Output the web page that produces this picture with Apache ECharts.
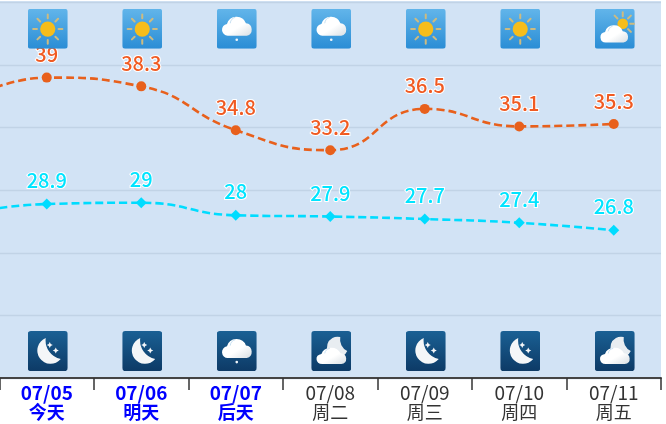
<!DOCTYPE html>
<html><head><meta charset="utf-8">
<style>html,body{margin:0;padding:0;background:#fff}#c{width:666px;height:424px}</style>
<script src="https://cdn.jsdelivr.net/npm/echarts@6/dist/echarts.min.js"></script>
</head><body><div id="c"></div>
<script>
const dates = ['', '07/05', '07/06', '07/07', '07/08', '07/09', '07/10', '07/11'];
const weekdays = ['', '今天', '明天', '后天', '周二', '周三', '周四', '周五'];
const highs = [36.5, 39, 38.3, 34.8, 33.2, 36.5, 35.1, 35.3];
const lows = [27.9, 28.9, 29, 28, 27.9, 27.7, 27.4, 26.8];
const dayIcons = [null, 'sun', 'sun', 'rain', 'rain', 'sun', 'sun', 'partly'];
const nightIcons = [null, 'moon', 'moon', 'rain', 'cloudNight', 'moon', 'moon', 'cloudNight'];
const dayIconLevel = 42.9, nightIconLevel = 17.15;

function cloud(tf) {
  return `<g transform="${tf}"><path d="M11 27a6 6 0 0 1-.8-11.9A10 10 0 0 1 29.2 14.4 6.4 6.4 0 0 1 30 27z" fill="url(#w)"/>` +
    `<path d="M13.5 14.5a7 7 0 0 1 5-6" fill="none" stroke="#b9d8ee" stroke-width=".8"/></g>`;
}
function rays(cx, cy, r0, r1, only) {
  let s = '';
  for (let i = 0; i < 8; i++) {
    if (only && !only.includes(i)) continue;
    const a = i * Math.PI / 4;
    s += `M${cx + r0 * Math.cos(a)} ${cy + r0 * Math.sin(a)}L${cx + r1 * Math.cos(a)} ${cy + r1 * Math.sin(a)}`;
  }
  return `<path d="${s}" stroke="#cdbb80" stroke-width="2" stroke-linecap="round"/>`;
}
const moonPath = 'M18 7A13.3 13.3 0 1 0 33 28A19 19 0 0 1 18 7z';
const art = {
  sun: rays(20, 20.3, 10.8, 14.6) + '<circle cx="20" cy="20.3" r="7.6" fill="#f6bd1b"/>',
  rain: cloud('') + '<circle cx="20" cy="31" r="1.3" fill="#f2f7fb"/>',
  partly: rays(28, 15, 7.5, 11.5, [0, 1, 5, 6, 7]) + '<circle cx="28" cy="15" r="5.3" fill="#f6bd1b"/>' + cloud('translate(.8,9.5) scale(.93,.9)'),
  moon: `<path d="${moonPath}" fill="#f4f6f8"/>` +
    '<path d="M22 11l1 2 2 1-2 1-1 2-1-2-2-1 2-1zM28 16.5l1 2 2 1-2 1-1 2-1-2-2-1 2-1z" fill="#f4f6f8"/>',
  cloudNight: '<path d="M29 6A10.5 10.5 0 1 0 36 20A13 13 0 0 1 29 6z" fill="#e8edf1"/>' + cloud('translate(0,10) scale(1,.85)')
};
function iconUri(name, night) {
  const stops = night ? ['#1a6094', '#0d3a66'] : ['#62b5ea', '#2a8dd5'];
  const svg = `<svg xmlns="http://www.w3.org/2000/svg" width="40" height="40" viewBox="0 0 40 40"><defs>` +
    `<linearGradient id="b" x1="0" y1="0" x2="0" y2="1"><stop offset="0" stop-color="${stops[0]}"/><stop offset="1" stop-color="${stops[1]}"/></linearGradient>` +
    `<linearGradient id="w" x1="0" y1="0" x2="1" y2="1"><stop offset=".55" stop-color="#fff"/><stop offset="1" stop-color="#d9dfe4"/></linearGradient></defs>` +
    `<rect width="40" height="40" rx="3" fill="url(#b)"/>${art[name]}</svg>`;
  return 'image://data:image/svg+xml;charset=utf-8,' + encodeURIComponent(svg);
}
function iconSeries(list, level, night) {
  return {
    type: 'scatter', z: 10, silent: true, symbolSize: 40, symbolOffset: [1, 0], clip: false,
    itemStyle: { opacity: 1 },
    data: list.map((n, i) => n ? { value: [i, level], symbol: iconUri(n, night) } : null).filter(Boolean)
  };
}
function lineSeries(values, color, labelColor, symbol, size) {
  return {
    type: 'line', smooth: true, symbol, symbolSize: size, z: 5, clip: true,
    lineStyle: { color, width: 2.6, type: [8, 4] },
    itemStyle: { color },
    label: {
      show: true, position: 'top', distance: 8, color: labelColor,
      fontFamily: 'Noto Sans CJK SC', fontSize: 20, fontWeight: 500,
      textBorderColor: '#fff', textBorderWidth: 2
    },
    data: values.map((v, i) => i === 0 ? { value: v, symbol: 'none', label: { show: false } } : v)
  };
}
const chart = echarts.init(document.getElementById('c'), null, { renderer: 'canvas' });
chart.setOption({
  animation: false,
  backgroundColor: '#fff',
  grid: { show: true, left: -95, top: 2.5, width: 756, height: 375.5, backgroundColor: '#d2e3f5', borderWidth: 0, containLabel: false, outerBoundsMode: 'none' },
  graphic: [{ type: 'rect', z: -1, shape: { x: 0, y: 1, width: 661, height: 3 }, style: { fill: '#d2e3f5' } }],
  xAxis: {
    type: 'category', data: dates, boundaryGap: true,
    axisLine: { lineStyle: { color: '#444', width: 2 } },
    axisTick: { show: true, length: 12, lineStyle: { color: '#333', width: 1.5 } },
    axisLabel: {
      interval: 0, margin: 5,
      formatter: (v, i) => {
        const hl = i >= 1 && i <= 3 ? 'h' : 'n';
        return v ? `{${hl}|${v}}\n{${hl}2|${weekdays[i]}}` : '';
      },
      rich: {
        h: { color: '#0000ff', fontWeight: 'bold', fontSize: 19, lineHeight: 20, fontFamily: 'Noto Sans CJK SC' },
        h2: { color: '#0000ff', fontWeight: 'bold', fontSize: 18, lineHeight: 19, fontFamily: 'Noto Sans CJK SC' },
        n: { color: '#333', fontSize: 19, lineHeight: 20, fontFamily: 'Noto Sans CJK SC' },
        n2: { color: '#333', fontSize: 18, lineHeight: 19, fontFamily: 'Noto Sans CJK SC' }
      }
    }
  },
  yAxis: {
    type: 'value', min: 15, max: 45, interval: 5,
    axisLine: { show: false }, axisTick: { show: false }, axisLabel: { show: false },
    splitLine: { lineStyle: { color: '#c1d3e6', width: 1.3 } }
  },
  series: [
    lineSeries(highs, '#e8601c', '#f05a22', 'circle', 10),
    lineSeries(lows, '#00dcff', '#00e4ff', 'diamond', 11),
    iconSeries(dayIcons, dayIconLevel, false),
    iconSeries(nightIcons, nightIconLevel, true)
  ]
});
</script></body></html>
